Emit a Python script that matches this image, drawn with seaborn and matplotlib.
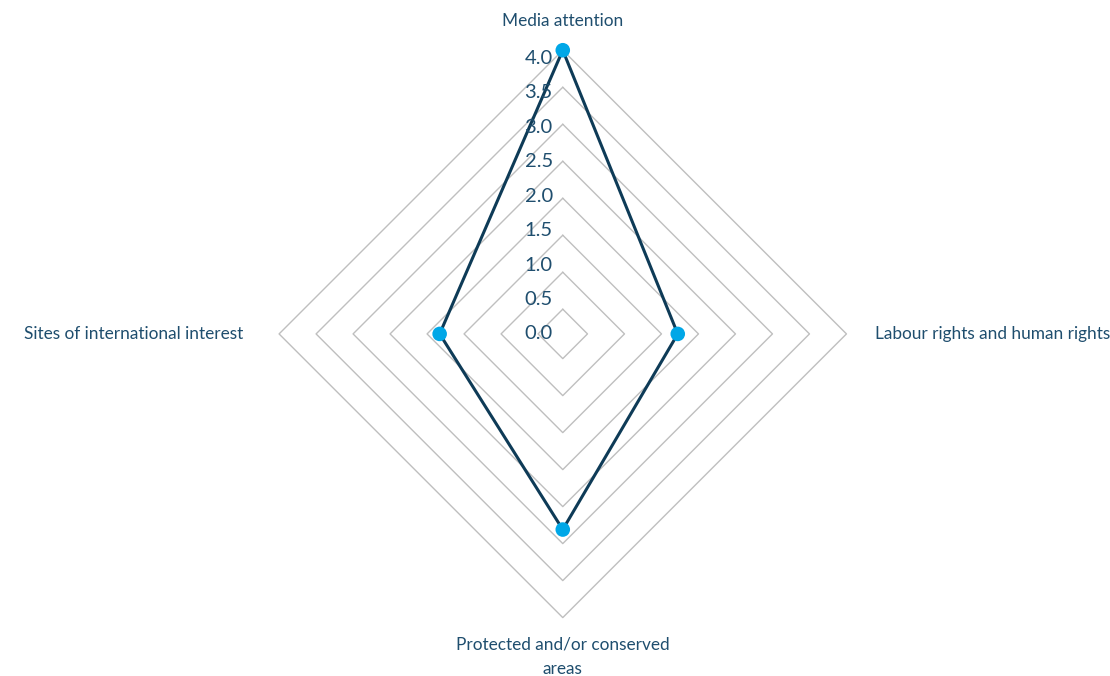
import numpy as np
import pandas as pd
import matplotlib
matplotlib.use("Agg")
import matplotlib.pyplot as plt
import matplotlib.transforms as mtransforms
import seaborn as sns

categories = ["Media attention", "Labour rights and human rights",
              "Protected and/or conserved\nareas", "Sites of international interest"]
values = [4.0, 1.72, 2.81, 1.83]
ring_levels = [0.5, 1.0, 1.5, 2.0, 2.5, 3.0, 3.5, 4.0]
tick_labels = ["0.0", "0.5", "1.0", "1.5", "2.0", "2.5", "3.0", "3.5", "4.0"]

R_MIN, R_MAX = 0.166, 4.0
TEXT = "#1F4E6E"
LINE = "#0E3B57"
MARK = "#00A7E7"
GRID = "#BFBFBF"

sns.set_theme(style="white")
plt.rcParams["font.family"] = ["Lato", "DejaVu Sans"]

fig = plt.figure(figsize=(11.10, 6.76), dpi=100)
ax = fig.add_axes([0.2514, 0.0864, 0.5112, 0.8393], projection="polar")
ax.set_theta_zero_location("N")
ax.set_theta_direction(-1)
ax.set_ylim(R_MIN, R_MAX)
ax.grid(False)
ax.spines["polar"].set_visible(False)
ax.set_xticks([])
ax.set_yticks([])
ax.patch.set_alpha(0)

n = len(categories)
theta = np.linspace(0, 2 * np.pi, n, endpoint=False)
theta_closed = np.append(theta, 2 * np.pi)

# diamond grid rings
for lvl in ring_levels:
    ax.plot(theta_closed, [lvl] * (n + 1), color=GRID, lw=1.0, clip_on=False, zorder=1)

df = pd.DataFrame({"theta": theta_closed, "value": values + [values[0]]})
sns.lineplot(data=df, x="theta", y="value", sort=False, ax=ax, color=LINE,
             lw=2.2, zorder=3, clip_on=False)
sns.scatterplot(x=theta, y=values, ax=ax, color=MARK, s=110, edgecolor="none",
                zorder=4, clip_on=False)
ax.set_xlabel("")
ax.set_ylabel("")

# radial tick labels along the vertical axis
toff = mtransforms.offset_copy(ax.transData, fig=fig, x=-10, y=0, units="dots")
for i, lab in enumerate(tick_labels):
    r = R_MIN + i * 0.5 * (275.7 / 74.06) / 4.0
    ax.text(0, r, lab, transform=toff, ha="right", va="center",
            fontsize=14.5, color=TEXT, zorder=5)

# category labels
specs = [
    dict(dx=0, dy=29, ha="center", va="center"),
    dict(dx=29, dy=0, ha="left", va="center"),
    dict(dx=0, dy=-19, ha="center", va="top"),
    dict(dx=-36, dy=0, ha="right", va="center"),
]
for ang, cat, sp in zip(theta, categories, specs):
    tr = mtransforms.offset_copy(ax.transData, fig=fig, x=sp["dx"], y=sp["dy"], units="dots")
    ax.text(ang, R_MAX, cat, transform=tr, ha=sp["ha"], va=sp["va"],
            fontsize=12.4, color=TEXT, linespacing=1.65, multialignment="center")

fig.savefig("out.png", dpi=100, facecolor="white")
